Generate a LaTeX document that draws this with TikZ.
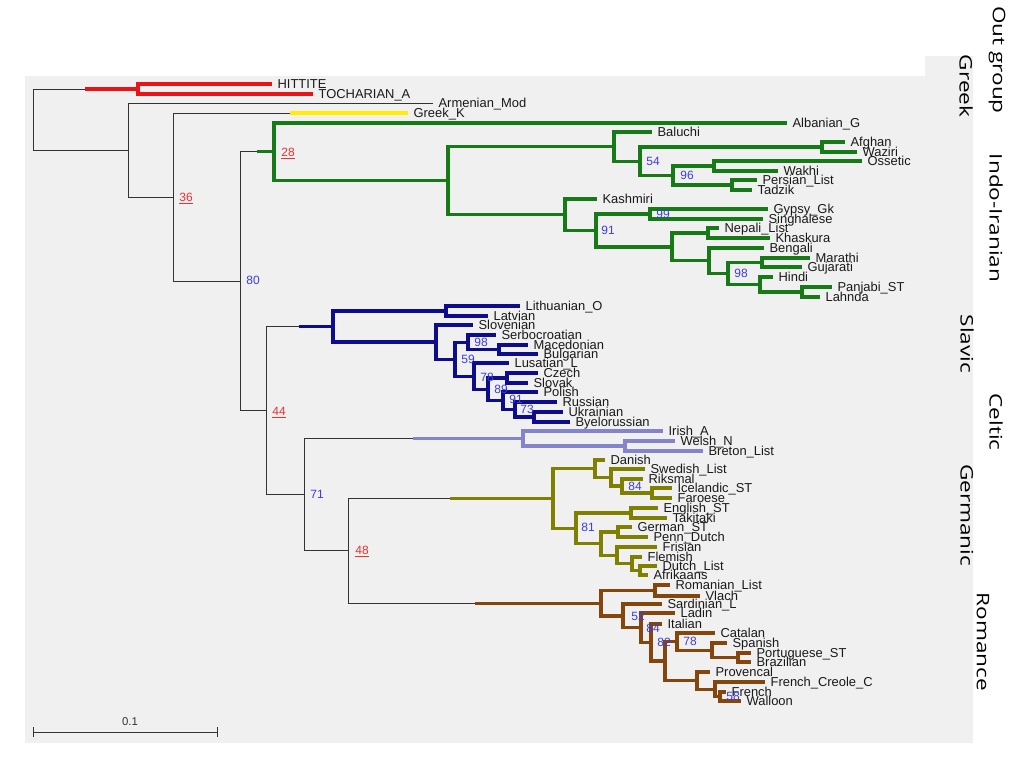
\documentclass[tikz,border=0pt]{standalone}
\usepackage{fontspec}
\setmainfont{Liberation Sans}
\newfontfamily\grpfont{Open Sans}
\usepackage{graphicx}
\usetikzlibrary{arrows.meta}

\definecolor{panel}{RGB}{240,240,240}
\definecolor{outred}{RGB}{232,20,24}
\definecolor{greekyel}{RGB}{255,238,0}
\definecolor{iirgreen}{RGB}{22,122,22}
\definecolor{slavblue}{RGB}{12,12,140}
\definecolor{celtlav}{RGB}{132,132,205}
\definecolor{germolive}{RGB}{128,128,0}
\definecolor{rombrown}{RGB}{132,70,12}
\definecolor{bootblue}{RGB}{60,60,225}
\definecolor{bootred}{RGB}{232,50,50}

\newcommand{\taxon}[3]{\coordinate[label={[tiplab]right:#3}] (#1) at (#2);}
\newcommand{\stretchlab}[1]{\scalebox{1.3}[1]{#1}}

\tikzset{
  edge/.style={line width=0.75pt, draw=black!80},
  clade/.style={line width=2.5pt},
  tiplab/.style={font=\fontsize{9.7}{11}\selectfont, text=black!90, inner sep=0pt,
    text height=7pt, text depth=0pt, label distance=4pt},
  boot/.style={font=\fontsize{9}{10}\selectfont, text=bootblue, inner sep=0pt,
    text height=6.5pt, text depth=0pt},
  weak/.style={boot, text=bootred},
  grp/.style={rotate=-90, font=\grpfont\fontsize{13}{15}\selectfont, inner sep=0pt},
}

\begin{document}
\begin{tikzpicture}[x=0.75pt,y=-0.75pt]
\useasboundingbox (0,0) rectangle (1024,768);
\fill[panel] (25,76) rectangle (973,743);
\fill[panel] (925,56) rectangle (973,76);

% backbone
\coordinate (root) at (33,119.5);
\coordinate (n1) at (128,150);
\coordinate (n36) at (173,197.1);
\coordinate (n80) at (240,281.2);
\coordinate (n44) at (266,410.6);
\coordinate (n71) at (304,494.7);
\coordinate (n48) at (348,550.9);
\coordinate (outs) at (85,89);
\coordinate (greeks) at (290,113);
\coordinate (iirs) at (257,151.8);
\coordinate (slavs) at (299,326.6);
\coordinate (celts) at (413,438.5);
\coordinate (germs) at (450,498.6);
\coordinate (roms) at (475,603.2);

% clades
\coordinate (out) at (138,89);
\coordinate (n28) at (274,151.8);
\coordinate (nii) at (448,180.7);
\coordinate (nir) at (614,146.6);
\coordinate (n54) at (640,161.2);
\coordinate (nafg) at (822,147);
\coordinate (n96) at (673,175.5);
\coordinate (noss) at (714,166);
\coordinate (npers) at (732,185);
\coordinate (nind) at (565,214.7);
\coordinate (n91) at (596,230.4);
\coordinate (n99) at (650,214);
\coordinate (nb) at (672,246.9);
\coordinate (nnep) at (708,233);
\coordinate (nc) at (709,260.7);
\coordinate (n98) at (728,273.5);
\coordinate (nmar) at (762,262.5);
\coordinate (nd) at (760,284.5);
\coordinate (npan) at (802,292);
\coordinate (nbs) at (333,326.6);
\coordinate (nbalt) at (446,311);
\coordinate (nsl) at (436,342.1);
\coordinate (n59) at (455,359.2);
\coordinate (n98s) at (468,342.2);
\coordinate (nmac) at (499,349.5);
\coordinate (n78) at (474,376.2);
\coordinate (n89) at (488,389.4);
\coordinate (nczech) at (507,378);
\coordinate (n91s) at (503,400.7);
\coordinate (n73) at (515,409.5);
\coordinate (nukr) at (534,417);
\coordinate (ncel) at (523,438.5);
\coordinate (nbryth) at (625,446);
\coordinate (nger) at (553,498.6);
\coordinate (nnord) at (595,468.7);
\coordinate (nswed) at (611,477.5);
\coordinate (n84) at (622,486);
\coordinate (nice) at (652,493);
\coordinate (n81) at (576,528.4);
\coordinate (neng) at (631,513);
\coordinate (nwg) at (601,543.7);
\coordinate (ngerm) at (618,532);
\coordinate (nfris) at (617,555.4);
\coordinate (nflem) at (632,563.7);
\coordinate (ndutch) at (640,570.5);
\coordinate (nrom) at (601,603.2);
\coordinate (nbalk) at (655,590.5);
\coordinate (nw) at (623,615.9);
\coordinate (n52) at (641,627.8);
\coordinate (n84r) at (651,642.6);
\coordinate (n82) at (665,661.1);
\coordinate (n78r) at (677,641.6);
\coordinate (nib) at (712,650.2);
\coordinate (nport) at (738,657.5);
\coordinate (ngall) at (697,680.6);
\coordinate (noil) at (715,689.2);
\coordinate (n58) at (720,696.5);

% tips
\taxon{hittite}{272,84}{HITTITE}
\taxon{tochar}{313,94}{TOCHARIAN\_A}
\taxon{armen}{433,103}{Armenian\_Mod}
\taxon{greekk}{408,113}{Greek\_K}
\taxon{alban}{787,123}{Albanian\_G}
\taxon{baluchi}{652,132}{Baluchi}
\taxon{afghan}{845,142}{Afghan}
\taxon{waziri}{857,152}{Waziri}
\taxon{ossetic}{862,161}{Ossetic}
\taxon{wakhi}{778,171}{Wakhi}
\taxon{persian}{757,180}{Persian\_List}
\taxon{tadzik}{752,190}{Tadzik}
\taxon{kashmiri}{597,199}{Kashmiri}
\taxon{gypsy}{768,209}{Gypsy\_Gk}
\taxon{singh}{763,219}{Singhalese}
\taxon{nepali}{719,228}{Nepali\_List}
\taxon{khaskura}{770,238}{Khaskura}
\taxon{bengali}{764,248}{Bengali}
\taxon{marathi}{810,258}{Marathi}
\taxon{gujarati}{802,267}{Gujarati}
\taxon{hindi}{773,277}{Hindi}
\taxon{panjabi}{832,287}{Panjabi\_ST}
\taxon{lahnda}{820,297}{Lahnda}
\taxon{lith}{520,306}{Lithuanian\_O}
\taxon{latv}{488,316}{Latvian}
\taxon{sloven}{473,325}{Slovenian}
\taxon{serbo}{496,335}{Serbocroatian}
\taxon{maced}{528,345}{Macedonian}
\taxon{bulg}{538,354}{Bulgarian}
\taxon{lusat}{509,363}{Lusatian\_L}
\taxon{czech}{538,373}{Czech}
\taxon{slovak}{528,383}{Slovak}
\taxon{polish}{538,392}{Polish}
\taxon{russian}{557,402}{Russian}
\taxon{ukr}{563,412}{Ukrainian}
\taxon{byel}{570,422}{Byelorussian}
\taxon{irish}{663,431}{Irish\_A}
\taxon{welsh}{675,441}{Welsh\_N}
\taxon{breton}{703,451}{Breton\_List}
\taxon{danish}{605,460}{Danish}
\taxon{swedish}{645,469}{Swedish\_List}
\taxon{riksmal}{643,479}{Riksmal}
\taxon{iceland}{672,488}{Icelandic\_ST}
\taxon{faroese}{672,498}{Faroese}
\taxon{english}{658,508}{English\_ST}
\taxon{takitaki}{667,518}{Takitaki}
\taxon{german}{632,527}{German\_ST}
\taxon{penn}{648,537}{Penn\_Dutch}
\taxon{frisian}{657,547}{Frisian}
\taxon{flemish}{642,557}{Flemish}
\taxon{dutch}{657,566}{Dutch\_List}
\taxon{afrik}{648,575}{Afrikaans}
\taxon{romanian}{670,585}{Romanian\_List}
\taxon{vlach}{700,596}{Vlach}
\taxon{sardin}{662,604}{Sardinian\_L}
\taxon{ladin}{675,613}{Ladin}
\taxon{italian}{662,624}{Italian}
\taxon{catalan}{715,633}{Catalan}
\taxon{spanish}{727,643}{Spanish}
\taxon{portug}{751,653}{Portuguese\_ST}
\taxon{brazil}{751,662}{Brazilian}
\taxon{provenc}{710,672}{Provencal}
\taxon{creole}{765,682}{French\_Creole\_C}
\taxon{french}{726,692}{French}
\taxon{walloon}{741,701}{Walloon}

% branches
\foreach \p/\c in {root/outs,root/n1,n1/armen,n1/n36,n36/greeks,n36/n80,n80/iirs,n80/n44,
    n44/slavs,n44/n71,n71/celts,n71/n48,n48/germs,n48/roms}
  \draw[edge] (\p) |- (\c);
\draw[clade,outred] (outs) -- (out);
\draw[clade,greekyel] (greeks) -- (greekk);
\draw[clade,iirgreen] (iirs) -- (n28);
\draw[clade,slavblue] (slavs) -- (nbs);
\draw[clade,celtlav] (celts) -- (ncel);
\draw[clade,germolive] (germs) -- (nger);
\draw[clade,rombrown] (roms) -- (nrom);
\foreach \p/\c in {out/hittite,out/tochar}
  \draw[clade,outred] (\p) |- (\c);
\foreach \p/\c in {n28/alban,n28/nii,nii/nir,nii/nind,nir/baluchi,nir/n54,n54/nafg,n54/n96,
    nafg/afghan,nafg/waziri,n96/noss,n96/npers,noss/ossetic,noss/wakhi,npers/persian,
    npers/tadzik,nind/kashmiri,nind/n91,n91/n99,n91/nb,n99/gypsy,n99/singh,nb/nnep,nb/nc,
    nnep/nepali,nnep/khaskura,nc/bengali,nc/n98,n98/nmar,n98/nd,nmar/marathi,
    nmar/gujarati,nd/hindi,nd/npan,npan/panjabi,npan/lahnda}
  \draw[clade,iirgreen] (\p) |- (\c);
\foreach \p/\c in {nbs/nbalt,nbs/nsl,nbalt/lith,nbalt/latv,nsl/sloven,nsl/n59,n59/n98s,
    n59/n78,n98s/serbo,n98s/nmac,nmac/maced,nmac/bulg,n78/lusat,n78/n89,n89/nczech,
    n89/n91s,nczech/czech,nczech/slovak,n91s/polish,n91s/n73,n73/russian,n73/nukr,
    nukr/ukr,nukr/byel}
  \draw[clade,slavblue] (\p) |- (\c);
\foreach \p/\c in {ncel/irish,ncel/nbryth,nbryth/welsh,nbryth/breton}
  \draw[clade,celtlav] (\p) |- (\c);
\foreach \p/\c in {nger/nnord,nger/n81,nnord/danish,nnord/nswed,nswed/swedish,nswed/n84,
    n84/riksmal,n84/nice,nice/iceland,nice/faroese,n81/neng,n81/nwg,neng/english,
    neng/takitaki,nwg/ngerm,nwg/nfris,ngerm/german,ngerm/penn,nfris/frisian,nfris/nflem,
    nflem/flemish,nflem/ndutch,ndutch/dutch,ndutch/afrik}
  \draw[clade,germolive] (\p) |- (\c);
\foreach \p/\c in {nrom/nbalk,nrom/nw,nbalk/romanian,nbalk/vlach,nw/sardin,nw/n52,
    n52/ladin,n52/n84r,n84r/italian,n84r/n82,n82/n78r,n82/ngall,n78r/catalan,n78r/nib,
    nib/spanish,nib/nport,nport/portug,nport/brazil,ngall/provenc,ngall/noil,
    noil/creole,noil/n58,n58/french,n58/walloon}
  \draw[clade,rombrown] (\p) |- (\c);

% bootstrap values
\node[weak] (b36) at (186,197) {\underline{36}};
\node[weak] (b28) at (288,152) {\underline{28}};
\node[weak] (b44) at (279,411) {\underline{44}};
\node[weak] (b48) at (362,550) {\underline{48}};
\node[boot] (b80) at (253,280) {80};
\node[boot] (b71) at (317,494) {71};
\node[boot] (b54) at (653,161) {54};
\node[boot] (b96) at (687,175) {96};
\node[boot] (b99) at (663,214) {99};
\node[boot] (b91) at (608,230) {91};
\node[boot] (b98) at (741,273) {98};
\node[boot] (b98s) at (481,342) {98};
\node[boot] (b59) at (468,359) {59};
\node[boot] (b78s) at (487,377) {78};
\node[boot] (b89) at (501,389) {89};
\node[boot] (b91s) at (516,399) {91};
\node[boot] (b73) at (527,409) {73};
\node[boot] (b84) at (635,486) {84};
\node[boot] (b81) at (588,527) {81};
\node[boot] (b52) at (638,616) {52};
\node[boot] (b84r) at (653,628) {84};
\node[boot] (b82) at (664,642) {82};
\node[boot] (b78r) at (690,641) {78};
\node[boot] (b58) at (733,696) {58};

% scale bar
\coordinate (sbl) at (33,732);
\coordinate (sbr) at (218,732);
\draw[edge,{Bar[width=7pt]}-{Bar[width=7pt]}] (sbl) -- (sbr);
\node[font=\fontsize{8.5}{10}\selectfont, text=black!80] (sbtxt) at (130,722) {0.1};

% groups
\node[grp] (lout) at (997,60) {\stretchlab{Out group}};
\node[grp] (lgreek) at (966,86) {\stretchlab{Greek}};
\node[grp] (lii) at (996,218) {\stretchlab{Indo-Iranian}};
\node[grp] (lslav) at (967,344) {\stretchlab{Slavic}};
\node[grp] (lcelt) at (996,422) {\stretchlab{Celtic}};
\node[grp] (lgerm) at (967,515) {\stretchlab{Germanic}};
\node[grp] (lrom) at (983,642) {\stretchlab{Romance}};
\end{tikzpicture}
\end{document}
